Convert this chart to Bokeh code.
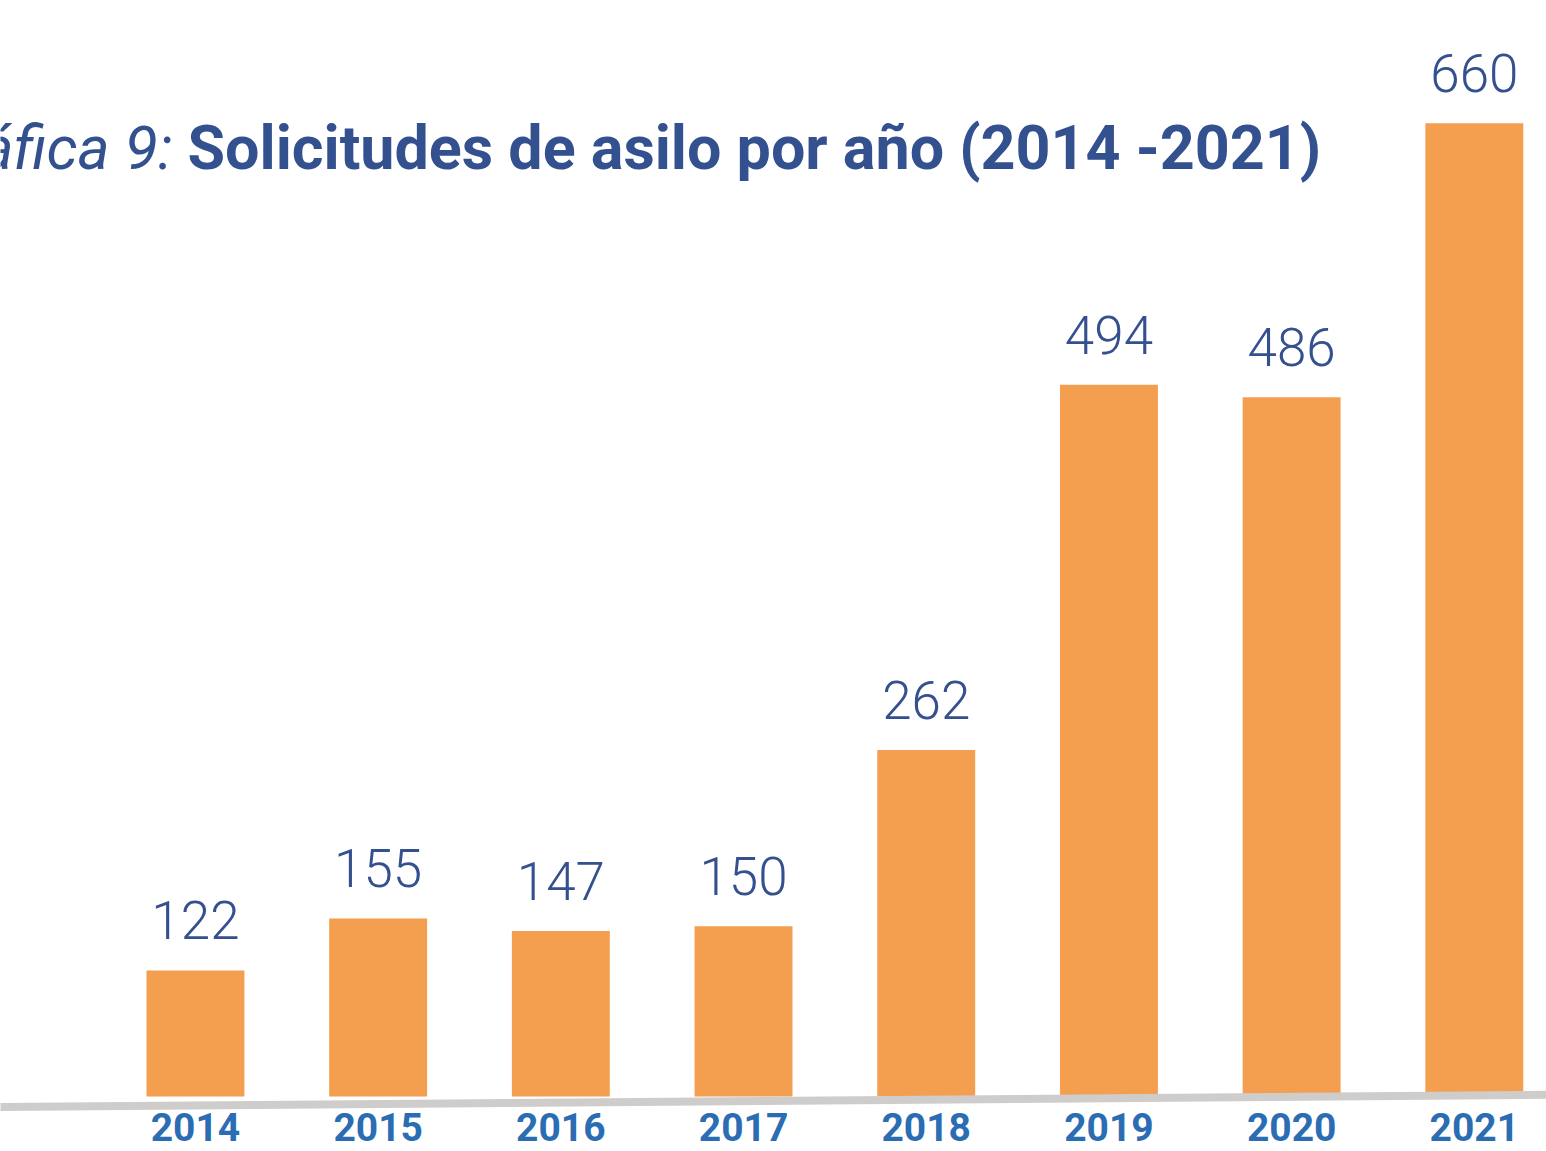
from bokeh.plotting import figure
from bokeh.models import Range1d, Slope, Label, ColumnDataSource
from bokeh.core.properties import value
from bokeh.embed import file_html
from bokeh.resources import INLINE

# ---- data ----
years = [2014, 2015, 2016, 2017, 2018, 2019, 2020, 2021]
solicitudes = [122, 155, 147, 150, 262, 494, 486, 660]
year_labels = [str(y) for y in years]
value_labels = [str(v) for v in solicitudes]
title_prefix = "Gráfica 9:"
title_main = "Solicitudes de asilo por año (2014 -2021)"

# ---- styling ----
BAR_COLOR = "#F49E4F"
LABEL_COLOR = "#34508F"
YEAR_COLOR = "#2A6DB3"
TITLE_COLOR = "#33508F"
AXIS_LINE_COLOR = "#CFCDCB"
BASE = 42  # value at which bars start (visual baseline)

p = figure(width=1546, height=1151, output_backend="svg", toolbar_location=None,
           x_range=Range1d(2012.933, 2021.395), y_range=Range1d(7, 738),
           min_border=0, x_axis_location=None, y_axis_location=None)
p.outline_line_color = None
p.grid.visible = False
p.background_fill_color = "white"
p.border_fill_color = "white"

src = ColumnDataSource(dict(x=years, top=solicitudes, label=value_labels, year=year_labels))

p.vbar(x="x", top="top", bottom=BASE, width=0.536, source=src,
       fill_color=BAR_COLOR, line_color=None)

# slanted baseline
p.add_layout(Slope(gradient=0.912, y_intercept=35.27 - 0.912 * 2012.933,
                   line_color=AXIS_LINE_COLOR, line_width=8))

# value labels
p.text(x="x", y="top", text="label", source=src, text_align="center",
       text_baseline="alphabetic", y_offset=-50,
       text_font=value("Roboto Light"), text_font_size="53px", text_color=LABEL_COLOR)

# year labels
p.text(x="x", y=BASE, text="year", source=src, text_align="center",
       text_baseline="alphabetic", y_offset=31,
       text_font=value("Roboto"), text_font_style="bold", text_font_size="39px",
       text_color=YEAR_COLOR)

# title (cut off at left, as in the source image)
p.add_layout(Label(x=172, y=1004, x_units="screen", y_units="screen", text=title_prefix,
                   text_align="right", text_baseline="alphabetic",
                   text_font="Roboto", text_font_style="italic",
                   text_font_size="61px", text_color=TITLE_COLOR))
p.add_layout(Label(x=187, y=1004, x_units="screen", y_units="screen", text=title_main,
                   text_align="left", text_baseline="alphabetic",
                   text_font="Roboto", text_font_style="bold",
                   text_font_size="61px", text_color=TITLE_COLOR))

open("out.html", "w").write(file_html(p, INLINE))
